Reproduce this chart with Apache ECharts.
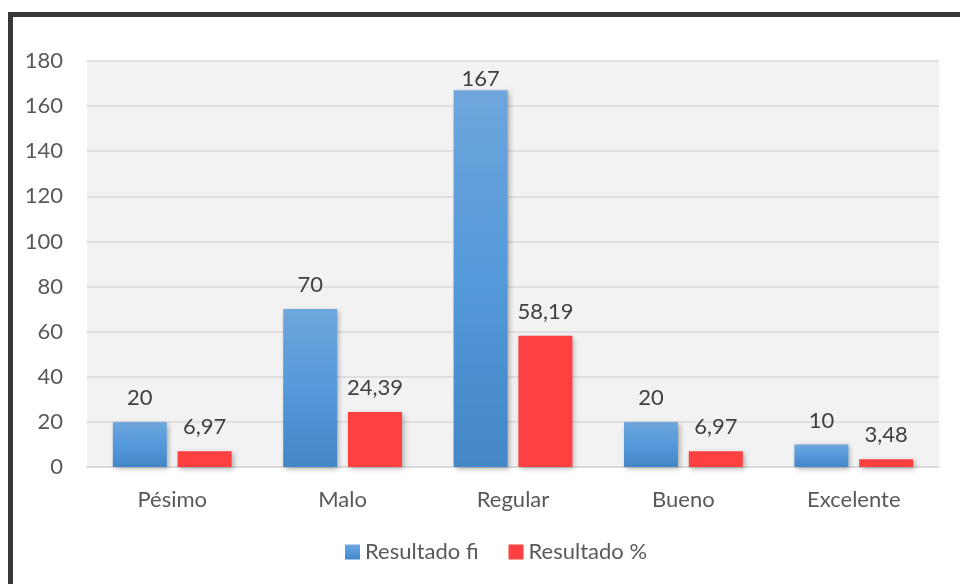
<!DOCTYPE html>
<html>
<head>
<meta charset="utf-8">
<script src="https://cdn.jsdelivr.net/npm/echarts@6/dist/echarts.min.js"></script>
<style>
html,body{margin:0;padding:0;background:#fff;}
#chart{width:960px;height:584px;}
</style>
</head>
<body>
<div id="chart"></div>
<script>
const categories = ['Pésimo', 'Malo', 'Regular', 'Bueno', 'Excelente'];
const seriesNames = ['Resultado fi', 'Resultado %'];
const resultadoFi = [20, 70, 167, 20, 10];
const resultadoPct = [6.97, 24.39, 58.19, 6.97, 3.48];
const yTicks = { min: 0, max: 180, interval: 20 };

const FONT = 'Lato, "Liberation Sans", sans-serif';
const chart = echarts.init(document.getElementById('chart'), null, { renderer: 'canvas' });

const fmt = p => String(p.value).replace('.', ',');
// Excel keeps labels inside the chart area: labels near the top get pulled down onto the bar
const withClamp = arr => arr.map(v => v > 160 ? { value: v, label: { distance: 0 } } : v);

chart.setOption({
  backgroundColor: '#ffffff',
  animation: false,
  graphic: [
    { type: 'rect', shape: { x: 8, y: 12, width: 952, height: 5 }, style: { fill: '#383838' }, z: 100 },
    { type: 'rect', shape: { x: 8, y: 12, width: 5, height: 572 }, style: { fill: '#383838' }, z: 100 }
  ],
  grid: {
    left: 87, right: 21, top: 61, bottom: 117,
    show: true, backgroundColor: '#f2f2f2', borderWidth: 0
  },
  legend: {
    top: 541,
    left: 345,
    padding: 0,
    itemWidth: 15, itemHeight: 15, itemGap: 30,
    icon: 'rect',
    textStyle: { fontFamily: FONT, fontSize: 22, color: '#595959' },
    data: seriesNames
  },
  xAxis: {
    type: 'category',
    data: categories,
    axisLine: { show: true, lineStyle: { color: '#d9d9d9', width: 1.5 } },
    axisTick: { show: false },
    axisLabel: { fontFamily: FONT, fontSize: 22, color: '#595959', margin: 22 }
  },
  yAxis: {
    type: 'value',
    min: yTicks.min, max: yTicks.max, interval: yTicks.interval,
    axisLine: { show: false },
    axisTick: { show: false },
    splitLine: { lineStyle: { color: '#d9d9d9', width: 1.5 } },
    axisLabel: { fontFamily: FONT, fontSize: 22, color: '#595959', margin: 24 }
  },
  series: [
    {
      name: seriesNames[0],
      type: 'bar',
      data: withClamp(resultadoFi),
      barWidth: 54,
      barGap: '20%',
      itemStyle: {
        color: new echarts.graphic.LinearGradient(0, 0, 0, 1, [
          { offset: 0, color: '#6fa6dc' },
          { offset: 0.5, color: '#5499da' },
          { offset: 1, color: '#4486c6' }
        ]),
        shadowBlur: 5, shadowColor: 'rgba(0,0,0,0.3)', shadowOffsetX: 2, shadowOffsetY: 2
      },
      label: {
        show: true, position: 'top', distance: 13,
        fontFamily: FONT, fontSize: 22, color: '#404040', formatter: fmt
      }
    },
    {
      name: seriesNames[1],
      type: 'bar',
      data: resultadoPct,
      barWidth: 54,
      itemStyle: {
        color: '#ff4040',
        shadowBlur: 5, shadowColor: 'rgba(0,0,0,0.3)', shadowOffsetX: 2, shadowOffsetY: 2
      },
      label: {
        show: true, position: 'top', distance: 13,
        fontFamily: FONT, fontSize: 22, color: '#404040', formatter: fmt
      }
    }
  ]
});
</script>
</body>
</html>
